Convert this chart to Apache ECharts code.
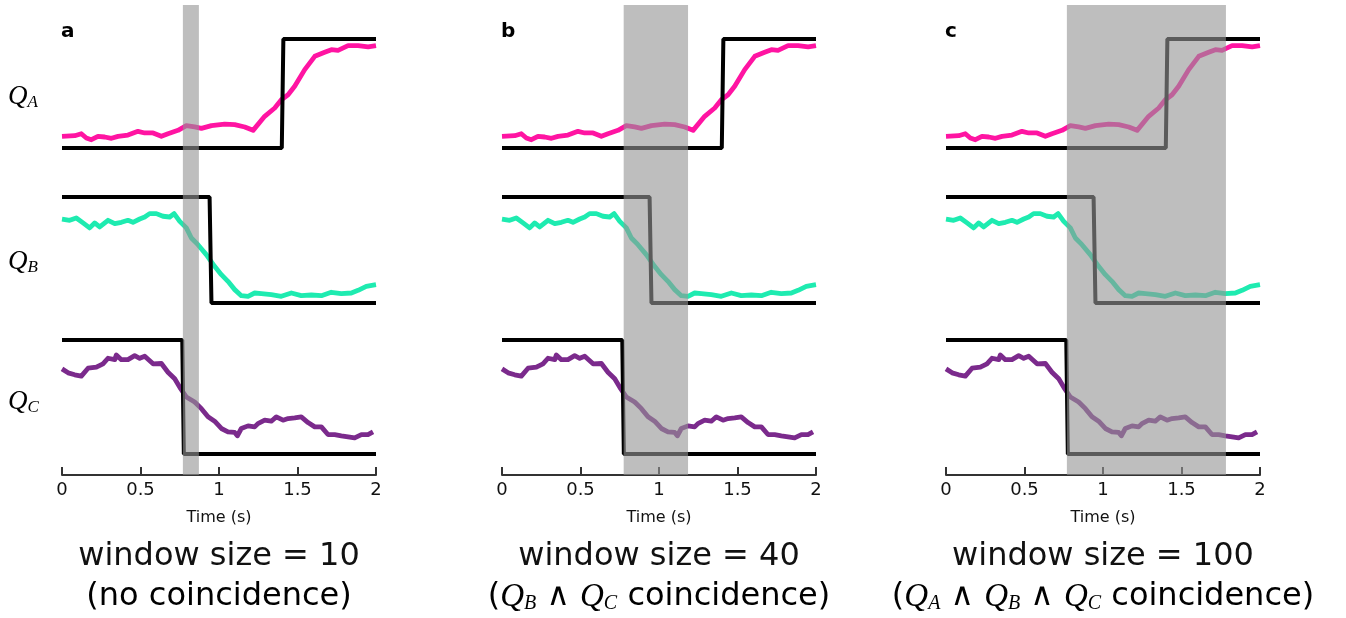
<!DOCTYPE html>
<html>
<head>
<meta charset="utf-8">
<script src="https://cdn.jsdelivr.net/npm/echarts@6.0.0/dist/echarts.min.js"></script>
<style>
  html, body { margin: 0; padding: 0; background: #fff; }
  #main { width: 1346px; height: 618px; }
</style>
</head>
<body>
<div id="main"></div>
<script>
// traces (normalised: 0 = step low, 1 = step high)
const qaTime = [0, 0.081, 0.123, 0.155, 0.187, 0.229, 0.272, 0.315, 0.357, 0.42, 0.484, 0.527, 0.58, 0.633, 0.675, 0.739, 0.792, 0.845, 0.888, 0.952, 1.036, 1.1, 1.164, 1.217, 1.291, 1.355, 1.397, 1.44, 1.482, 1.546, 1.61, 1.673, 1.716, 1.758, 1.822, 1.886, 1.95, 2]
const qaValues = [0.107, 0.113, 0.131, 0.092, 0.076, 0.107, 0.101, 0.089, 0.107, 0.119, 0.153, 0.138, 0.138, 0.107, 0.131, 0.162, 0.205, 0.193, 0.18, 0.205, 0.22, 0.214, 0.193, 0.162, 0.291, 0.367, 0.443, 0.489, 0.566, 0.719, 0.841, 0.878, 0.902, 0.896, 0.939, 0.939, 0.927, 0.939]

const qbTime = [0, 0.049, 0.091, 0.134, 0.176, 0.208, 0.24, 0.293, 0.336, 0.378, 0.42, 0.452, 0.495, 0.527, 0.558, 0.601, 0.643, 0.686, 0.714, 0.75, 0.792, 0.824, 0.866, 0.919, 0.972, 1.015, 1.057, 1.1, 1.142, 1.185, 1.227, 1.27, 1.333, 1.397, 1.461, 1.524, 1.588, 1.652, 1.715, 1.779, 1.843, 1.886, 1.938, 2]
const qbValues = [0.792, 0.78, 0.802, 0.755, 0.708, 0.755, 0.717, 0.78, 0.748, 0.761, 0.78, 0.761, 0.792, 0.811, 0.843, 0.843, 0.818, 0.811, 0.843, 0.77, 0.708, 0.613, 0.55, 0.456, 0.346, 0.267, 0.204, 0.126, 0.069, 0.063, 0.094, 0.088, 0.079, 0.063, 0.094, 0.069, 0.075, 0.069, 0.101, 0.088, 0.094, 0.119, 0.157, 0.173]

const qcTime = [0, 0.039, 0.081, 0.123, 0.166, 0.219, 0.261, 0.293, 0.336, 0.346, 0.378, 0.42, 0.463, 0.495, 0.527, 0.58, 0.633, 0.675, 0.718, 0.756, 0.792, 0.845, 0.888, 0.93, 0.972, 1.015, 1.057, 1.1, 1.117, 1.142, 1.185, 1.227, 1.248, 1.291, 1.333, 1.365, 1.408, 1.44, 1.482, 1.524, 1.567, 1.61, 1.652, 1.694, 1.737, 1.779, 1.822, 1.864, 1.907, 1.949, 1.981]
const qcValues = [0.747, 0.712, 0.695, 0.683, 0.753, 0.762, 0.791, 0.84, 0.828, 0.869, 0.828, 0.828, 0.863, 0.84, 0.858, 0.791, 0.794, 0.718, 0.66, 0.573, 0.5, 0.456, 0.398, 0.326, 0.288, 0.224, 0.195, 0.189, 0.16, 0.224, 0.247, 0.238, 0.267, 0.297, 0.288, 0.326, 0.297, 0.311, 0.317, 0.326, 0.276, 0.238, 0.238, 0.171, 0.171, 0.16, 0.151, 0.142, 0.171, 0.171, 0.195]

// black step signals
const qaStepTime = [0, 1.4, 1.41, 2]
const qaStepValues = [0, 0, 1, 1]
const qbStepTime = [0, 0.94, 0.952, 2]
const qbStepValues = [1, 1, 0, 0]
const qcStepTime = [0, 0.766, 0.776, 2]
const qcStepValues = [1, 1, 0, 0]

// coincidence windows per panel (s)
const windowStart = [0.77, 0.775, 0.77]
const windowEnd = [0.872, 1.185, 1.783]

const panelLetters = ['a', 'b', 'c']
const rowNames = ['A', 'B', 'C']
const xTicks = [0, 0.5, 1, 1.5, 2]

const traces = [
  {time: qaTime, values: qaValues, stepTime: qaStepTime, stepValues: qaStepValues, color: '#ff14a2'},
  {time: qbTime, values: qbValues, stepTime: qbStepTime, stepValues: qbStepValues, color: '#1eebb0'},
  {time: qcTime, values: qcValues, stepTime: qcStepTime, stepValues: qcStepValues, color: '#7b2a8c'}
]

// layout
const panelLeft = [62, 502, 946]
const panelWidth = 314
const rowMin = [-3.0, -1.623, -0.184]
const rowMax = [1.312, 2.811, 3.939]

let grid = [], xAxis = [], yAxis = [], series = [], graphic = []

panelLeft.forEach((left, p) => {
  grid.push({left: left, width: panelWidth, top: 5, height: 470})
  xAxis.push({
    type: 'value', gridIndex: p, min: xTicks[0], max: xTicks[xTicks.length - 1], interval: 0.5,
    axisLine: {onZero: false, lineStyle: {color: '#333', width: 2}},
    axisTick: {inside: true, length: 8, lineStyle: {color: '#333', width: 2}},
    axisLabel: {color: '#111', fontSize: 18, margin: 6, fontFamily: 'DejaVu Sans'},
    splitLine: {show: false},
    name: 'Time (s)', nameLocation: 'middle', nameGap: 35,
    nameTextStyle: {color: '#111', fontSize: 16, fontFamily: 'DejaVu Sans'}
  })
  traces.forEach((tr, r) => {
    yAxis.push({type: 'value', gridIndex: p, min: rowMin[r], max: rowMax[r], show: false})
    let yi = p * 3 + r
    series.push({
      type: 'line', xAxisIndex: p, yAxisIndex: yi, showSymbol: false, symbol: 'none',
      data: tr.time.map((t, i) => [t, tr.values[i]]),
      lineStyle: {color: tr.color, width: 4.8, join: 'round'}, z: 2
    })
    series.push({
      type: 'line', xAxisIndex: p, yAxisIndex: yi, showSymbol: false, symbol: 'none',
      data: tr.stepTime.map((t, i) => [t, tr.stepValues[i]]),
      lineStyle: {color: '#000', width: 4}, z: 3
    })
  })
  // grey window drawn over the traces
  series.push({
    type: 'custom', xAxisIndex: p, yAxisIndex: p * 3, z: 10, silent: true,
    data: [[windowStart[p], windowEnd[p]]],
    encode: {x: [0, 1]},
    renderItem: (params, api) => {
      let x0 = api.coord([api.value(0), 0])[0]
      let x1 = api.coord([api.value(1), 0])[0]
      let cs = params.coordSys
      return {
        type: 'rect',
        shape: {x: x0, y: cs.y, width: x1 - x0, height: cs.height},
        style: {fill: 'rgba(148,148,148,0.61)'}
      }
    }
  })
  graphic.push({
    type: 'text', left: left - 1, top: 22,
    style: {text: panelLetters[p], fontSize: 20, fontWeight: 'bold', fontFamily: 'DejaVu Sans', fill: '#000'}
  })
})

// row labels Q_A, Q_B, Q_C
const rowLabelY = [97, 262, 402]
const serifRich = (qs, ss, pad, ts) => ({
  q: {fontFamily: 'Liberation Serif', fontStyle: 'italic', fontSize: qs, color: '#111'},
  s: {fontFamily: 'Liberation Serif', fontStyle: 'italic', fontSize: ss, color: '#111', padding: [pad, 0, 0, 0]},
  t: {fontFamily: 'DejaVu Sans', fontSize: ts, color: '#111'}
})
rowNames.forEach((n, r) => {
  graphic.push({
    type: 'text', x: 8, y: rowLabelY[r],
    style: {text: '{q|Q}{s|' + n + '}', rich: serifRich(27, 17, 12, 30), verticalAlign: 'middle', textVerticalAlign: 'middle'}
  })
})

// captions
const captionLine1 = ['window size = 10', 'window size = 40', 'window size = 100']
const captionLine2 = [
  '{t|(no coincidence)}',
  '{t|(}{q|Q}{s|B}{t| ∧ }{q|Q}{s|C}{t| coincidence)}',
  '{t|(}{q|Q}{s|A}{t| ∧ }{q|Q}{s|B}{t| ∧ }{q|Q}{s|C}{t| coincidence)}'
]
panelLeft.forEach((left, p) => {
  let cx = left + panelWidth / 2
  graphic.push({
    type: 'text', x: cx, y: 557,
    style: {text: captionLine1[p], fontSize: 32, fontFamily: 'DejaVu Sans', fill: '#111',
      align: 'center', textAlign: 'center', verticalAlign: 'middle', textVerticalAlign: 'middle'}
  })
  graphic.push({
    type: 'text', x: cx, y: 597,
    style: {text: captionLine2[p], rich: serifRich(33, 20, 14, 32),
      align: 'center', textAlign: 'center', verticalAlign: 'middle', textVerticalAlign: 'middle'}
  })
})

let option = {
  animation: false,
  backgroundColor: '#fff',
  grid: grid,
  xAxis: xAxis,
  yAxis: yAxis,
  series: series,
  graphic: graphic
}

let myChart = echarts.init(document.getElementById('main'))
myChart.setOption(option)
</script>
</body>
</html>
